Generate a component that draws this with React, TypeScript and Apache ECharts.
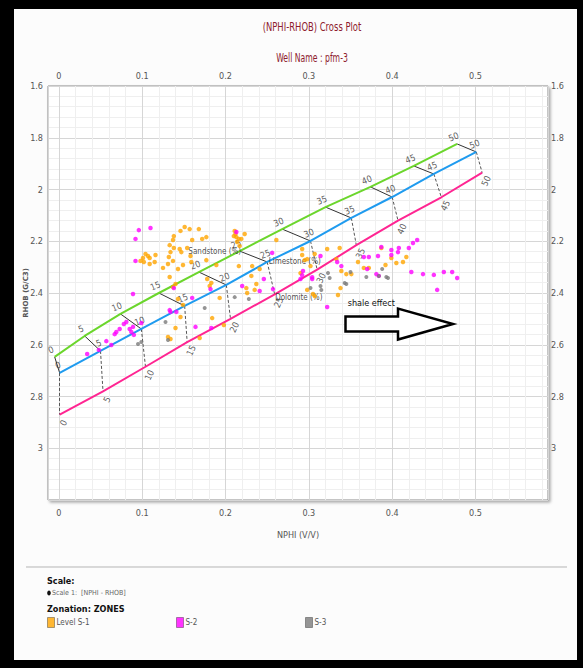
import React, { useEffect, useRef } from "react";
import * as echarts from "echarts";

// ---------- data ----------
const porosityPct = [0, 5, 10, 15, 20, 25, 30, 35, 40, 45, 50];

const sandNphi = [-0.005, 0.031, 0.074, 0.12, 0.168, 0.217, 0.268, 0.32, 0.374, 0.426, 0.478];
const sandRhob = [2.647, 2.566, 2.481, 2.4, 2.319, 2.238, 2.153, 2.068, 1.99, 1.909, 1.824];

const limeNphi = [0.001, 0.05, 0.099, 0.151, 0.201, 0.25, 0.302, 0.351, 0.4, 0.45, 0.501];
const limeRhob = [2.709, 2.624, 2.539, 2.45, 2.369, 2.28, 2.199, 2.11, 2.029, 1.94, 1.855];

const dolNphi = [0.001, 0.053, 0.104, 0.154, 0.206, 0.259, 0.31, 0.357, 0.407, 0.459, 0.508];
const dolRhob = [2.87, 2.78, 2.685, 2.59, 2.5, 2.405, 2.31, 2.215, 2.12, 2.03, 1.935];

const zoneS1 = [
  [0.146, 2.16], [0.151, 2.145], [0.157, 2.153], [0.168, 2.153], [0.138, 2.18], [0.137, 2.195],
  [0.133, 2.215], [0.138, 2.226], [0.134, 2.242], [0.145, 2.23], [0.147, 2.242], [0.16, 2.195],
  [0.172, 2.191], [0.177, 2.184], [0.158, 2.257], [0.154, 2.226], [0.104, 2.249], [0.107, 2.257],
  [0.109, 2.265], [0.101, 2.265], [0.098, 2.276], [0.116, 2.253], [0.115, 2.28], [0.109, 2.288],
  [0.102, 2.28], [0.132, 2.261], [0.137, 2.276], [0.131, 2.288], [0.125, 2.303], [0.149, 2.292],
  [0.143, 2.307], [0.133, 2.338], [0.14, 2.365], [0.183, 2.361], [0.143, 2.423], [0.149, 2.446],
  [0.146, 2.493], [0.184, 2.497], [0.198, 2.524], [0.14, 2.535], [0.131, 2.57], [0.134, 2.578],
  [0.169, 2.574], [0.137, 2.377], [0.177, 2.273], [0.159, 2.28], [0.189, 2.292], [0.178, 2.346],
  [0.181, 2.373], [0.193, 2.419], [0.211, 2.16], [0.212, 2.172], [0.213, 2.184], [0.214, 2.203],
  [0.21, 2.18], [0.216, 2.191], [0.217, 2.218], [0.216, 2.296], [0.223, 2.172], [0.219, 2.191],
  [0.261, 2.195], [0.232, 2.296], [0.231, 2.334], [0.237, 2.365], [0.235, 2.388], [0.225, 2.381],
  [0.226, 2.4], [0.241, 2.307], [0.292, 2.23], [0.298, 2.269], [0.302, 2.296], [0.307, 2.249],
  [0.29, 2.323], [0.298, 2.388], [0.307, 2.412], [0.322, 2.23], [0.333, 2.269], [0.337, 2.226],
  [0.339, 2.315], [0.345, 2.327], [0.351, 2.327], [0.338, 2.381], [0.359, 2.28], [0.366, 2.303],
  [0.399, 2.265], [0.405, 2.284], [0.413, 2.28], [0.417, 2.261], [0.392, 2.292], [0.372, 2.303],
  [0.387, 2.226], [0.335, 2.408], [0.292, 2.253], [0.295, 2.273], [0.305, 2.404],
];

const zoneS2 = [
  [0.096, 2.157], [0.11, 2.149], [0.092, 2.191], [0.092, 2.276], [0.089, 2.404], [0.138, 2.381],
  [0.182, 2.385], [0.134, 2.473], [0.183, 2.535], [0.078, 2.52], [0.085, 2.539], [0.087, 2.551],
  [0.09, 2.562], [0.069, 2.551], [0.067, 2.559], [0.034, 2.636], [0.057, 2.586], [0.063, 2.601],
  [0.073, 2.539], [0.081, 2.512], [0.089, 2.531], [0.099, 2.516], [0.048, 2.62], [0.133, 2.466],
  [0.141, 2.473], [0.16, 2.419], [0.164, 2.531], [0.213, 2.164], [0.246, 2.346], [0.241, 2.392],
  [0.22, 2.373], [0.257, 2.385], [0.29, 2.346], [0.293, 2.315], [0.304, 2.346], [0.322, 2.454],
  [0.314, 2.257], [0.334, 2.28], [0.339, 2.296], [0.366, 2.261], [0.37, 2.307], [0.43, 2.195],
  [0.425, 2.207], [0.42, 2.226], [0.408, 2.226], [0.407, 2.242], [0.399, 2.234], [0.399, 2.253],
  [0.387, 2.222], [0.383, 2.257], [0.372, 2.261], [0.381, 2.327], [0.384, 2.334], [0.423, 2.319],
  [0.437, 2.327], [0.45, 2.33], [0.462, 2.319], [0.472, 2.319], [0.478, 2.342], [0.454, 2.388],
  [0.256, 2.245], [0.292, 2.331], [0.304, 2.339],
];

const zoneS3 = [
  [0.175, 2.458], [0.131, 2.582], [0.099, 2.589], [0.095, 2.597], [0.128, 2.512], [0.302, 2.381],
  [0.314, 2.373], [0.323, 2.323], [0.325, 2.342], [0.345, 2.365], [0.369, 2.338], [0.388, 2.307],
  [0.393, 2.338], [0.395, 2.342], [0.35, 2.319], [0.343, 2.361], [0.315, 2.388], [0.384, 2.334],
  [0.228, 2.423], [0.211, 2.416],
];

const xTickValues = [0, 0.1, 0.2, 0.3, 0.4, 0.5];
const xRange = [-0.013, 0.587];
const yRange = [1.6, 3.2];
const yTickStep = 0.2;

const zoneNames = ["Level S-1", "S-2", "S-3"];
const lithoNames = ["Sandstone (%)", "Limestone (%)", "Dolomite (%)"];
const lithoLabelIndex = 5;

// annotation anchors (data units)
const shaleText = [0.375, 2.44];
const shaleArrow = { tail: 0.344, headStart: 0.407, tip: 0.473, rhob: 2.52 };

// ---------- styles ----------
const NARROW = "'Liberation Sans Narrow','DejaVu Sans Condensed','Open Sans',sans-serif";
const TITLE_COLOR = "#8e1b2e";
const GREEN = "#6bd62c";
const BLUE = "#1f9bef";
const PINK = "#ff2592";

const zip = (a: number[], b: number[]) => a.map((v, i) => [v, b[i]]);
const zip3 = (a: number[], b: number[], c: number[]) => a.map((v, i) => [v, b[i], c[i]]);

function minorXValues() {
  const out: number[] = [];
  const step = xTickValues[1] - xTickValues[0];
  const sub = step / 5;
  for (let t = xTickValues[0] - step; t <= xTickValues[xTickValues.length - 1] + step; t += step) {
    for (let k = 1; k < 5; k++) {
      const v = +(t + k * sub).toFixed(4);
      if (v > xRange[0] && v < xRange[1]) out.push(v);
    }
  }
  return out;
}

function porosityLabelSeries(nphi: number[], rhob: number[], position: string, rotate: number, distance: number, offset: number[]) {
  return {
    type: "scatter",
    symbolSize: 1,
    itemStyle: { color: "rgba(0,0,0,0)" },
    silent: true,
    z: 4,
    data: zip3(nphi, rhob, porosityPct),
    encode: { x: 0, y: 1 },
    label: {
      show: true,
      position,
      distance,
      rotate,
      offset,
      formatter: (p: any) => String(p.value[2]),
      fontFamily: NARROW,
      fontSize: 9,
      color: "#333",
    },
  };
}

export default function App() {
  const ref = useRef<HTMLDivElement>(null);

  useEffect(() => {
    const chart = echarts.init(ref.current!, null, { renderer: "svg" });

    const xLabelFmt = (v: number) => {
      const hit = xTickValues.find((t) => Math.abs(t - v) < 1e-6);
      return hit === undefined ? "" : String(hit);
    };
    const yLabelFmt = (v: number) => (v > 3.05 ? "" : String(+v.toFixed(1)));

    const axisLabelBase = { fontFamily: NARROW, fontSize: 9, color: "#555" };

    const option: any = {
      animation: false,
      backgroundColor: "transparent",
      grid: {
        left: 34,
        top: 77,
        right: 29,
        bottom: 160,
        containLabel: false,
        outerBoundsMode: "none",
        show: true,
        backgroundColor: "#ffffff",
        borderColor: "#8a8a8a",
        borderWidth: 1,
        shadowColor: "rgba(0,0,0,0.35)",
        shadowBlur: 3,
        shadowOffsetX: 2,
        shadowOffsetY: 2,
      },
      xAxis: [
        {
          type: "value",
          position: "bottom",
          min: xRange[0],
          max: xRange[1],
          splitNumber: 6,
          axisLine: { show: false },
          axisTick: { show: false },
          splitLine: { show: true, lineStyle: { color: "#d6d6d6", width: 1 } },
          axisLabel: { ...axisLabelBase, margin: 8, formatter: xLabelFmt, showMinLabel: false, showMaxLabel: false },
          name: "NPHI (V/V)",
          nameLocation: "middle",
          nameGap: 30,
          nameMoveOverlap: false,
          nameTextStyle: { fontFamily: NARROW, fontSize: 9, color: "#555" },
        },
        {
          type: "value",
          position: "top",
          min: xRange[0],
          max: xRange[1],
          splitNumber: 6,
          axisLine: { show: false },
          axisTick: { show: false },
          splitLine: { show: false },
          axisLabel: { ...axisLabelBase, margin: 6, formatter: xLabelFmt, showMinLabel: false, showMaxLabel: false },
        },
      ],
      yAxis: [
        {
          type: "value",
          position: "left",
          inverse: true,
          min: yRange[0],
          max: yRange[1],
          interval: yTickStep,
          axisLine: { show: false },
          axisTick: { show: false },
          minorTick: { show: false, splitNumber: 5 },
          splitLine: { show: true, lineStyle: { color: "#d6d6d6", width: 1 } },
          minorSplitLine: { show: true, lineStyle: { color: "#efefef", width: 1 } },
          axisLabel: { ...axisLabelBase, margin: 5, formatter: yLabelFmt },
          name: "RHOB (G/C3)",
          nameLocation: "middle",
          nameGap: 19,
          nameMoveOverlap: false,
          nameRotate: 90,
          nameTextStyle: { fontFamily: "'DejaVu Sans', sans-serif", fontSize: 7, fontWeight: "bold", color: "#555" },
        },
        {
          type: "value",
          position: "right",
          inverse: true,
          min: yRange[0],
          max: yRange[1],
          interval: yTickStep,
          axisLine: { show: false },
          axisTick: { show: false },
          splitLine: { show: false },
          axisLabel: { ...axisLabelBase, margin: 3, formatter: yLabelFmt },
        },
      ],
      legend: zoneNames.map((n, i) => ({
        data: [n],
        left: [33, 162, 291][i],
        top: 608,
        padding: 0,
        icon: "rect",
        itemWidth: 7,
        itemHeight: 10,
        itemStyle: { borderColor: "rgba(0,0,0,0.4)", borderWidth: 1 },
        textStyle: { fontFamily: NARROW, fontSize: 8, color: "#555", padding: [0, 0, 0, -3] },
        selectedMode: false,
      })),
      series: [
        {
          type: "scatter",
          name: "__minor",
          data: [[xTickValues[0], yRange[0]]],
          symbolSize: 0,
          silent: true,
          z: 0,
          markLine: {
            silent: true,
            z: 0,
            symbol: "none",
            label: { show: false },
            lineStyle: { color: "#efefef", type: "solid", width: 1 },
            data: minorXValues().map((v) => ({ xAxis: v })),
          },
        },
        {
          type: "line",
          name: "Sandstone",
          data: zip(sandNphi, sandRhob),
          symbol: "none",
          lineStyle: { color: GREEN, width: 2 },
          z: 3,
          silent: true,
        },
        {
          type: "line",
          name: "Limestone",
          data: zip(limeNphi, limeRhob),
          symbol: "none",
          lineStyle: { color: BLUE, width: 2 },
          z: 3,
          silent: true,
        },
        {
          type: "line",
          name: "Dolomite",
          data: zip(dolNphi, dolRhob),
          symbol: "none",
          lineStyle: { color: PINK, width: 2 },
          z: 3,
          silent: true,
        },
        {
          type: "lines",
          coordinateSystem: "cartesian2d",
          silent: true,
          z: 2,
          lineStyle: { color: "#333", width: 1, type: "solid", opacity: 1 },
          data: porosityPct.map((_, i) => ({
            coords: [[sandNphi[i], sandRhob[i]], [limeNphi[i], limeRhob[i]]],
          })),
        },
        {
          type: "lines",
          coordinateSystem: "cartesian2d",
          silent: true,
          z: 2,
          lineStyle: { color: "#555", width: 1, type: [3, 2], opacity: 1 },
          data: porosityPct.map((_, i) => ({
            coords: [[limeNphi[i], limeRhob[i]], [dolNphi[i], dolRhob[i]]],
          })),
        },
        porosityLabelSeries(sandNphi, sandRhob, "top", 22, 3, [-2, 0]),
        porosityLabelSeries(limeNphi, limeRhob, "top", 22, 3, [0, 0]),
        porosityLabelSeries(dolNphi, dolRhob, "bottom", 65, 6, [0, 0]),
        {
          type: "scatter",
          silent: true,
          symbolSize: 1,
          itemStyle: { color: "rgba(0,0,0,0)" },
          z: 5,
          data: [
            { value: [sandNphi[lithoLabelIndex], sandRhob[lithoLabelIndex]], label: { position: "left", distance: -2 } },
            { value: [limeNphi[lithoLabelIndex], limeRhob[lithoLabelIndex]], label: { position: "right", distance: 1 } },
            { value: [dolNphi[lithoLabelIndex], dolRhob[lithoLabelIndex]], label: { position: "right", distance: 0, offset: [0, 3] } },
          ],
          label: {
            show: true,
            fontFamily: NARROW,
            fontSize: 8,
            color: "#222",
            formatter: (p: any) => lithoNames[p.dataIndex],
          },
        },
        {
          type: "scatter",
          name: zoneNames[0],
          data: zoneS1,
          symbolSize: 4.5,
          itemStyle: { color: "#ffa500" },
          z: 6,
        },
        {
          type: "scatter",
          name: zoneNames[1],
          data: zoneS2,
          symbolSize: 4.5,
          itemStyle: { color: "#ff00ff" },
          z: 6,
        },
        {
          type: "scatter",
          name: zoneNames[2],
          data: zoneS3,
          symbolSize: 4,
          itemStyle: { color: "#7a7a7a" },
          z: 6,
        },
      ],
    };

    chart.setOption(option);

    const px = (v: number) => chart.convertToPixel({ xAxisIndex: 0 }, v) as number;
    const py = (v: number) => chart.convertToPixel({ yAxisIndex: 0 }, v) as number;

    const tx = px(shaleArrow.tail);
    const hx = px(shaleArrow.headStart);
    const ex = px(shaleArrow.tip);
    const cy = py(shaleArrow.rhob);
    const bodyH = 7.5;
    const headH = 15.5;

    const txt = (text: string, x: number, y: number, font: string, fill: string, align = "left", scaleX = 1) => ({
      type: "text",
      x,
      y,
      scaleX,
      silent: true,
      style: {
        text,
        font,
        fill,
        align,
        verticalAlign: "middle",
        textAlign: align,
        textVerticalAlign: "middle",
      },
    });

    chart.setOption({
      graphic: [
        txt("(NPHI-RHOB) Cross Plot", 298, 18, `12px ${NARROW}`, TITLE_COLOR, "center", 0.78),
        txt("Well Name : pfm-3", 298, 49, `13px ${NARROW}`, TITLE_COLOR, "center", 0.66),
        {
          type: "line",
          silent: true,
          shape: { x1: 12, y1: 558, x2: 553, y2: 558 },
          style: { stroke: "#b5b5b5", lineWidth: 1 },
        },
        txt("Scale:", 33, 572, `bold 9px ${NARROW}`, "#111"),
        { type: "ellipse", silent: true, shape: { cx: 35, cy: 584, rx: 1.8, ry: 2.4 }, style: { fill: "#111" } },
        txt("Scale 1:  [NPHI - RHOB]", 38, 584, `7px ${NARROW}`, "#666"),
        txt("Zonation: ZONES", 33, 600, `bold 9px ${NARROW}`, "#111"),
        {
          type: "text",
          x: px(shaleText[0]),
          y: py(shaleText[1]),
          silent: true,
          z: 10,
          style: {
            text: "shale effect",
            font: `9px ${NARROW}`,
            fill: "#111",
            align: "center",
            verticalAlign: "middle",
            textAlign: "center",
            textVerticalAlign: "middle",
          },
        },
        {
          type: "polygon",
          silent: true,
          z: 10,
          shape: {
            points: [
              [tx, cy - bodyH],
              [hx, cy - bodyH],
              [hx, cy - headH],
              [ex, cy],
              [hx, cy + headH],
              [hx, cy + bodyH],
              [tx, cy + bodyH],
            ],
          },
          style: { fill: "#ffffff", stroke: "#000", lineWidth: 2.5, lineJoin: "miter" },
        },
      ],
    });

    return () => chart.dispose();
  }, []);

  return (
    <div style={{ position: "fixed", left: 0, top: 0, width: 583, height: 668, background: "#000" }}>
      <div
        ref={ref}
        style={{ position: "absolute", left: 14, top: 9, width: 563, height: 651, background: "#fcfcfc" }}
      />
    </div>
  );
}
